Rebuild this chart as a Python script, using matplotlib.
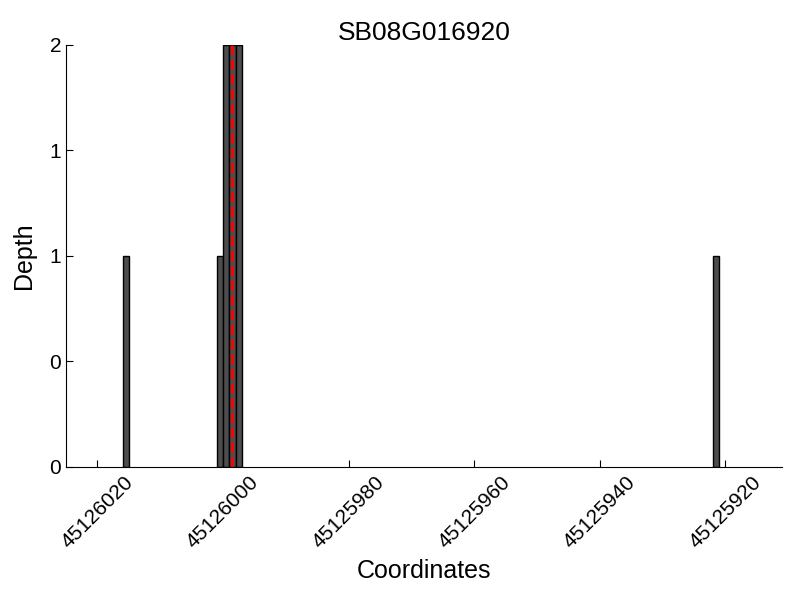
import matplotlib
matplotlib.use("Agg")
import matplotlib.pyplot as plt
from matplotlib.ticker import FormatStrFormatter

plt.rcParams['font.family'] = ['Liberation Sans', 'DejaVu Sans']

title = "SB08G016920"
positions = [45126015, 45126000, 45125999, 45125998, 45125997, 45125921]
depths = [1, 1, 2, 2, 2, 1]
marker_x = 45125998.5
xticks = [45126020, 45126000, 45125980, 45125960, 45125940, 45125920]
yticks = [0, 0.5, 1, 1.5, 2]

fig = plt.figure(figsize=(8, 6), dpi=100)
ax = fig.add_axes([0.0825, 0.2217, 0.895, 0.7033])

ax.bar(positions, depths, width=1, align='edge', color='#4d4d4d',
       edgecolor='black', linewidth=1)
ax.axvline(marker_x, color='red', linestyle='--', linewidth=2)

ax.set_xlim(45126025, 45125911)
ax.set_ylim(0, 2)
ax.set_xticks(xticks)
ax.set_xticklabels([str(t) for t in xticks], rotation=45, ha='center',
                   fontsize=15)
ax.set_yticks(yticks)
ax.yaxis.set_major_formatter(FormatStrFormatter('%d'))
ax.tick_params(axis='both', direction='in', length=5)
ax.tick_params(axis='y', labelsize=15)
ax.tick_params(axis='x', pad=4)

for s in ['top', 'right']:
    ax.spines[s].set_visible(False)

ax.set_title(title, fontsize=19, pad=3)
ax.set_xlabel("Coordinates", fontsize=18, labelpad=5)
ax.set_ylabel("Depth", fontsize=18, labelpad=10)

fig.savefig("out.png", dpi=100)
